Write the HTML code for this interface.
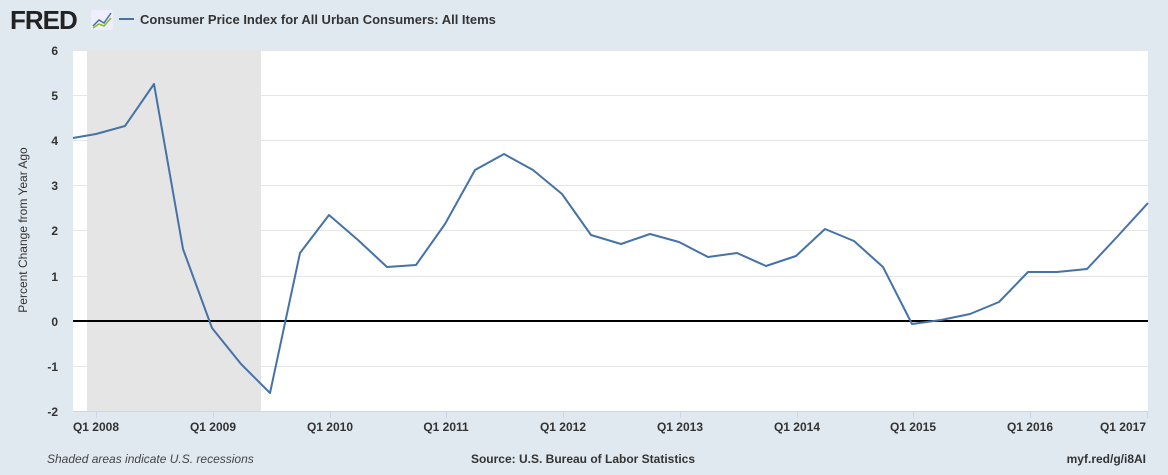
<!DOCTYPE html>
<html><head><style>
body{margin:0;background:#e1e9f0;font-family:"Liberation Sans",sans-serif;}
</style></head><body>
<svg width="1168" height="470" xmlns="http://www.w3.org/2000/svg" font-family="Liberation Sans, sans-serif">
<rect width="1168" height="470" fill="#e1e9f0"/>
<text x="10" y="29" font-size="26" font-weight="bold" fill="#222" letter-spacing="-1">FRED</text>
<rect x="91" y="10" width="22" height="20" fill="#eef" rx="2"/>
<polyline points="93,26 99,20 104,23 111,13" fill="none" stroke="#4572a7" stroke-width="1.5"/>
<polyline points="93,28 99,24 104,26 111,18" fill="none" stroke="#8bbc21" stroke-width="1.5"/>
<line x1="119" y1="19" x2="134" y2="19" stroke="#4572a7" stroke-width="2"/>
<text x="140" y="24" font-size="13" font-weight="bold" fill="#333">Consumer Price Index for All Urban Consumers: All Items</text>
<rect x="73" y="50" width="1075" height="361" fill="#fff"/>
<rect x="87" y="50" width="174" height="361" fill="#e5e5e5"/>
<g stroke="#e6e6e6" stroke-width="1">
<line x1="73" y1="50.5" x2="1148" y2="50.5"/><line x1="73" y1="95.5" x2="1148" y2="95.5"/>
<line x1="73" y1="140.5" x2="1148" y2="140.5"/><line x1="73" y1="185.5" x2="1148" y2="185.5"/>
<line x1="73" y1="230.5" x2="1148" y2="230.5"/><line x1="73" y1="276.5" x2="1148" y2="276.5"/>
<line x1="73" y1="366.5" x2="1148" y2="366.5"/>
</g>
<line x1="73" y1="321" x2="1148" y2="321" stroke="#000" stroke-width="2"/>
<line x1="73" y1="411.5" x2="1148" y2="411.5" stroke="#ccd6eb"/>
<g stroke="#ccd6eb">
<line x1="96.5" y1="411" x2="96.5" y2="418"/><line x1="213.5" y1="411" x2="213.5" y2="418"/><line x1="330.5" y1="411" x2="330.5" y2="418"/><line x1="446.5" y1="411" x2="446.5" y2="418"/><line x1="563.5" y1="411" x2="563.5" y2="418"/><line x1="680.5" y1="411" x2="680.5" y2="418"/><line x1="797.5" y1="411" x2="797.5" y2="418"/><line x1="913.5" y1="411" x2="913.5" y2="418"/><line x1="1030.5" y1="411" x2="1030.5" y2="418"/><line x1="1147.5" y1="411" x2="1147.5" y2="418"/>
</g>
<polyline fill="none" stroke="#4572a7" stroke-width="2" stroke-linejoin="round" points="73,138 96,134 125,126 154,84 183,249 212,328 241,364 270,393 300,253 329,215 358,240 387,267 416,265 445,224 475,170 504,154 533,170 562,194 591,235 621,244 650,234 679,242 708,257 737,253 766,266 796,256 825,229 854,241 883,267 912,324 941,320 970,314 999,302 1028,272 1057,272 1087,269 1116,238 1148,203"/>
<g font-size="12" font-weight="bold" fill="#333" text-anchor="end">
<text x="58" y="55">6</text><text x="58" y="100">5</text><text x="58" y="145">4</text><text x="58" y="190">3</text><text x="58" y="235">2</text><text x="58" y="281">1</text><text x="58" y="326">0</text><text x="58" y="371">-1</text><text x="58" y="416">-2</text>
</g>
<g font-size="12" font-weight="bold" fill="#333" text-anchor="middle">
<text x="96" y="431">Q1 2008</text><text x="213" y="431">Q1 2009</text><text x="330" y="431">Q1 2010</text><text x="446" y="431">Q1 2011</text><text x="563" y="431">Q1 2012</text><text x="680" y="431">Q1 2013</text><text x="797" y="431">Q1 2014</text><text x="913" y="431">Q1 2015</text><text x="1030" y="431">Q1 2016</text><text x="1146" y="431" text-anchor="end">Q1 2017</text>
</g>
<text transform="translate(27,230) rotate(-90)" font-size="12" fill="#333" text-anchor="middle">Percent Change from Year Ago</text>
<text x="47" y="463" font-size="12" font-style="italic" fill="#444">Shaded areas indicate U.S. recessions</text>
<text x="583" y="463" font-size="12" font-weight="bold" fill="#333" text-anchor="middle">Source: U.S. Bureau of Labor Statistics</text>
<text x="1146" y="463" font-size="12" font-weight="bold" fill="#333" text-anchor="end">myf.red/g/i8AI</text>
</svg>
</body></html>
